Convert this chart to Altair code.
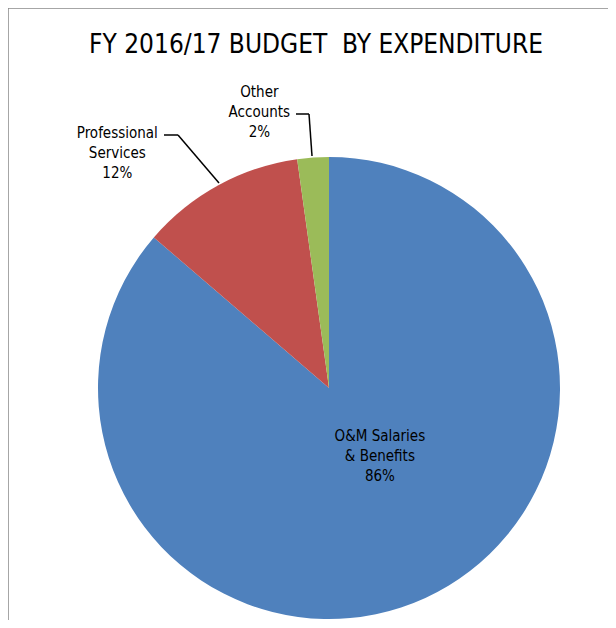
import altair as alt
import pandas as pd

# ---- data ----
categories = ["O&M Salaries & Benefits", "Professional Services", "Other Accounts"]
values = [86.3, 11.5, 2.2]
label_texts = ["O&M Salaries\n& Benefits\n86%", "Professional\nServices\n12%", "Other\nAccounts\n2%"]
colors = ["#4F81BD", "#C0504D", "#9BBB59"]
title_text = "FY 2016/17 BUDGET\u00a0 BY EXPENDITURE"

df = pd.DataFrame({
    "category": categories,
    "value": values,
    "label": label_texts,
    "order": list(range(len(categories))),
})
total = sum(values)

FONT = "DejaVu Sans Condensed"
CX, CY, R = 321, 380, 231
theta_scale = alt.Scale(domain=[0, total])

pie = alt.Chart(df).mark_arc(outerRadius=R).encode(
    theta=alt.Theta("value:Q", stack=True, scale=theta_scale),
    order=alt.Order("order:Q"),
    color=alt.Color("category:N", scale=alt.Scale(domain=categories, range=colors), legend=None),
    x=alt.value(CX),
    y=alt.value(CY),
)

def label_layer(i, radius, dx, dy):
    return (
        alt.Chart(df)
        .transform_window(cum="sum(value)", sort=[alt.SortField("order")], frame=[None, 0])
        .transform_calculate(mid="datum.cum - datum.value / 2")
        .transform_filter(alt.datum.order == i)
        .mark_text(radius=radius, dx=dx, dy=dy, font=FONT, fontSize=15, lineBreak="\n",
                   lineHeight=20, color="#000000", align="center", baseline="middle")
        .encode(
            theta=alt.Theta("mid:Q", stack=False, scale=theta_scale),
            text="label:N",
            x=alt.value(CX),
            y=alt.value(CY),
        )
    )

lab_blue = label_layer(0, 86, 15, -30)
lab_red = label_layer(1, 300, -68, 8)
lab_green = label_layer(2, 270, -51, -27)

one = pd.DataFrame({"a": [0]})

def seg(x1, y1, x2, y2, color="#000000", w=1.5):
    return alt.Chart(one).mark_rule(color=color, strokeWidth=w).encode(
        x=alt.value(x1), y=alt.value(y1), x2=alt.value(x2), y2=alt.value(y2)
    )

leaders = [
    seg(156, 127, 170, 127),
    seg(170, 127, 211, 175),
    seg(288, 106, 301, 106),
    seg(301, 106, 304, 148),
]
border = [
    seg(0, 0, 620, 0, color="#888888", w=1.5),
    seg(0, 0, 0, 630, color="#888888", w=1.5),
]

title = alt.Chart(pd.DataFrame({"t": [title_text]})).mark_text(
    font=FONT, fontSize=26, color="#000000", align="center", baseline="middle"
).encode(text="t:N", x=alt.value(308), y=alt.value(37))

chart = alt.layer(
    pie, lab_blue, lab_red, lab_green, title, *leaders, *border
).properties(
    width=600, height=612,
    autosize=alt.AutoSizeParams(type="none"),
    padding=0,
).configure_view(stroke="transparent")

chart.save("out.html", embed_options={"renderer": "svg", "actions": False})
